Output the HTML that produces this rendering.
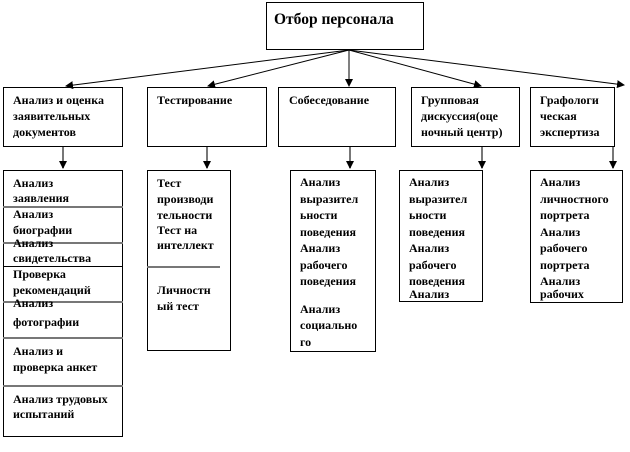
<!DOCTYPE html>
<html><head><meta charset="utf-8"><style>
html,body{margin:0;padding:0;background:#fff;}
svg text{font-family:"Liberation Serif","Times New Roman",serif;font-weight:bold;font-size:12px;fill:#000;}
</style></head><body>
<svg width="630" height="447" xmlns="http://www.w3.org/2000/svg">
<defs><marker id="a" markerWidth="8" markerHeight="8" refX="7" refY="4" orient="auto" markerUnits="userSpaceOnUse"><path d="M0,0 L8,4 L0,8 z" fill="#000"/></marker>
<marker id="g" markerWidth="8" markerHeight="8" refX="7" refY="4" orient="auto" markerUnits="userSpaceOnUse"><path d="M0,0 L8,4 L0,8 z" fill="#000"/></marker></defs>
<g fill="none" stroke="#000" stroke-width="1">
<rect x="266.5" y="2.5" width="157" height="47"/>
<rect x="3.5" y="87.5" width="119" height="59"/>
<rect x="147.5" y="87.5" width="119" height="59"/>
<rect x="278.5" y="87.5" width="117" height="59"/>
<rect x="411.5" y="87.5" width="108" height="59"/>
<rect x="530.5" y="87.5" width="84" height="59"/>
<rect x="3.5" y="170.5" width="119" height="266"/>
<rect x="147.5" y="170.5" width="83" height="180"/>
<rect x="290.5" y="170.5" width="85" height="181"/>
<rect x="399.5" y="170.5" width="83" height="131"/>
<rect x="530.5" y="170.5" width="92" height="132"/>
<line x1="349" y1="50" x2="66" y2="86" marker-end="url(#a)"/>
<line x1="349" y1="50" x2="208" y2="86" marker-end="url(#a)"/>
<line x1="349" y1="50" x2="349" y2="86" marker-end="url(#a)"/>
<line x1="349" y1="50" x2="481" y2="86" marker-end="url(#a)"/>
<line x1="349" y1="50" x2="624" y2="85" marker-end="url(#a)"/>
</g>
<g stroke="#777" stroke-width="2" fill="none">
<line x1="63" y1="147" x2="63" y2="168" marker-end="url(#g)"/>
<line x1="207" y1="147" x2="207" y2="168" marker-end="url(#g)"/>
<line x1="350" y1="147" x2="350" y2="168" marker-end="url(#g)"/>
<line x1="482" y1="147" x2="482" y2="168" marker-end="url(#g)"/>
<line x1="613" y1="147" x2="613" y2="168" marker-end="url(#g)"/>
<line x1="3" y1="207" x2="123" y2="207"/>
<line x1="3" y1="243" x2="123" y2="243"/>
<line x1="3" y1="302" x2="123" y2="302"/>
<line x1="3" y1="338" x2="123" y2="338"/>
<line x1="3" y1="386" x2="123" y2="386"/>
<line x1="147" y1="267" x2="220" y2="267"/>
</g>
<line x1="3" y1="266.5" x2="123" y2="266.5" stroke="#000"/>
<text x="274" y="24" style="font-size:15.5px">Отбор персонала</text>
<text x="13" y="104">Анализ и оценка</text><text x="13" y="120">заявительных</text><text x="13" y="136">документов</text>
<text x="157" y="104">Тестирование</text>
<text x="289" y="104">Собеседование</text>
<text x="421" y="104">Групповая</text><text x="421" y="120">дискуссия(оце</text><text x="421" y="136">ночный центр)</text>
<text x="540" y="104">Графологи</text><text x="540" y="120">ческая</text><text x="540" y="136">экспертиза</text>
<text x="13" y="187">Анализ</text><text x="13" y="202">заявления</text>
<text x="13" y="218">Анализ</text><text x="13" y="234">биографии</text>
<text x="13" y="247">Анализ</text><text x="13" y="262">свидетельства</text>
<text x="13" y="278">Проверка</text><text x="13" y="294">рекомендаций</text>
<text x="13" y="307">Анализ</text><text x="13" y="326">фотографии</text>
<text x="13" y="355">Анализ и</text><text x="13" y="371">проверка анкет</text>
<text x="13" y="403">Анализ трудовых</text><text x="13" y="418">испытаний</text>
<text x="157" y="187">Тест</text><text x="157" y="203">производи</text><text x="157" y="219">тельности</text><text x="157" y="234">Тест на</text><text x="157" y="249">интеллект</text>
<text x="157" y="294">Личностн</text><text x="157" y="310">ый тест</text>
<text x="300" y="186">Анализ</text><text x="300" y="203">выразител</text><text x="300" y="219">ьности</text><text x="300" y="236">поведения</text><text x="300" y="252">Анализ</text><text x="300" y="269">рабочего</text><text x="300" y="285">поведения</text>
<text x="300" y="313">Анализ</text><text x="300" y="329">социально</text><text x="300" y="346">го</text>
<text x="409" y="186">Анализ</text><text x="409" y="203">выразител</text><text x="409" y="219">ьности</text><text x="409" y="236">поведения</text><text x="409" y="252">Анализ</text><text x="409" y="269">рабочего</text><text x="409" y="285">поведения</text><text x="409" y="298">Анализ</text>
<text x="540" y="186">Анализ</text><text x="540" y="203">личностного</text><text x="540" y="219">портрета</text><text x="540" y="236">Анализ</text><text x="540" y="252">рабочего</text><text x="540" y="269">портрета</text><text x="540" y="285">Анализ</text><text x="540" y="298">рабочих</text>
</svg>
</body></html>
